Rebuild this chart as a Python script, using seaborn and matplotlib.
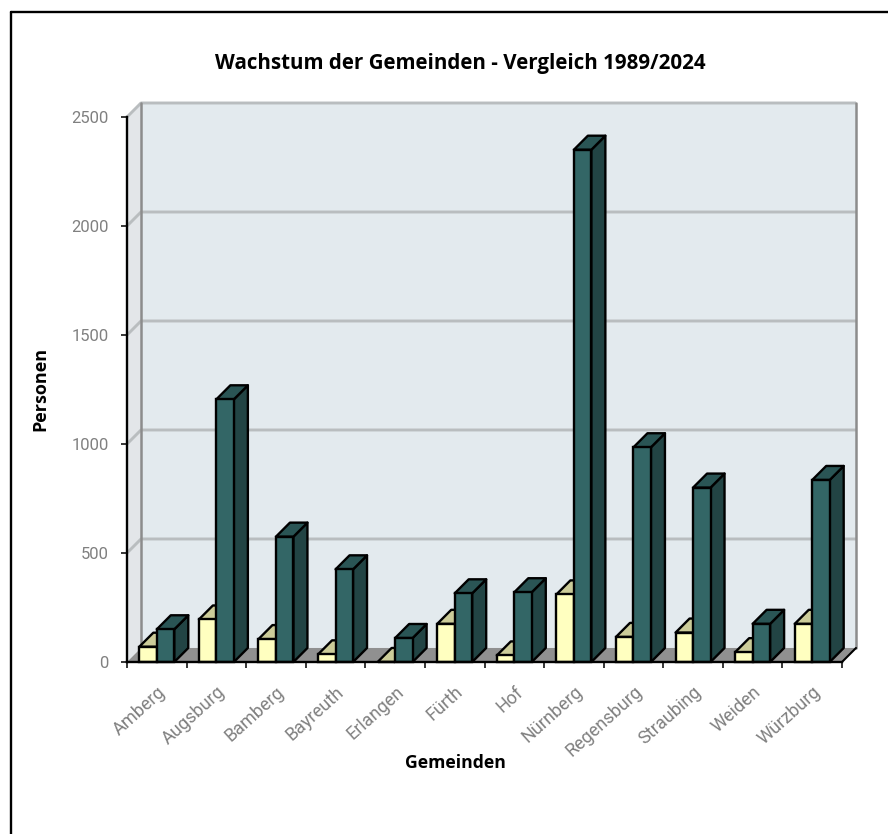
import matplotlib
matplotlib.use("Agg")
import matplotlib.pyplot as plt
from matplotlib.lines import Line2D
from matplotlib.patches import Polygon
import pandas as pd
import seaborn as sns

gemeinden = ["Amberg", "Augsburg", "Bamberg", "Bayreuth", "Erlangen", "Fürth", "Hof",
             "Nürnberg", "Regensburg", "Straubing", "Weiden", "Würzburg"]
wachstum_1989 = [70, 195, 105, 35, 0, 175, 30, 310, 115, 135, 45, 175]
wachstum_2024 = [150, 1205, 575, 425, 110, 315, 320, 2350, 985, 800, 175, 835]
y_ticks = [0, 500, 1000, 1500, 2000, 2500]

sns.set_theme(style="white")
W, H = 888, 834
fig = plt.figure(figsize=(W / 100, H / 100), dpi=100, facecolor="white")
ax = fig.add_axes([127 / W, 1 - 662 / H, 729 / W, 559 / H])

df = pd.DataFrame({
    "Gemeinde": gemeinden * 2,
    "Personen": wachstum_1989 + wachstum_2024,
    "Jahr": ["1989"] * 12 + ["2024"] * 12,
})
sns.barplot(data=df, x="Gemeinde", y="Personen", hue="Jahr", ax=ax, width=0.587, gap=0,
            saturation=1, palette=["#FFFFC0", "#336666"], edgecolor="black", linewidth=1.7,
            legend=False, errorbar=None)

# depth of the fake 3d box, in data units (14 px each way)
dx = 14 / (715 / 12)
dy = 14 / (544 / 2500)
x0, x1 = -0.5, 11.5
ax.set_xlim(x0, x1 + dx)
ax.set_ylim(0, 2500 + dy)

# walls and floor
ax.add_patch(Polygon([(x0 + dx, dy), (x1 + dx, dy), (x1 + dx, 2500 + dy), (x0 + dx, 2500 + dy)],
                     fc="#E3EAEE", ec="none", zorder=0))
ax.add_patch(Polygon([(x0, 0), (x0 + dx, dy), (x0 + dx, 2500 + dy), (x0, 2500)],
                     fc="#E3E6E9", ec="none", zorder=0))
ax.add_patch(Polygon([(x0, 0), (x1, 0), (x1 + dx, dy), (x0 + dx, dy)],
                     fc="#909090", ec="none", zorder=0.5))
for t in y_ticks[1:]:
    ax.plot([x0, x0 + dx, x1 + dx], [t, t + dy, t + dy], color="#B9BDBF", lw=2.1, zorder=1,
            solid_capstyle="butt", clip_on=False)
ax.plot([x0 + dx, x0 + dx], [dy, 2500 + dy], color="#8C8C8C", lw=1.8, zorder=1.5, clip_on=False)
ax.plot([x1 + dx, x1 + dx], [dy, 2500 + dy], color="#8C8C8C", lw=1.8, zorder=1.5, clip_on=False)
ax.plot([x1, x1 + dx], [0, dy], color="black", lw=1.5, zorder=1.5, clip_on=False)

# side and top faces for each bar
shades = [("#CCCC99", "#999973"), ("#2A5555", "#224444")]
for k, (bars, (top_col, side_col)) in enumerate(zip(ax.containers, shades)):
    base = 3 + 3 * k
    for b in bars:
        bx, bw, bh = b.get_x(), b.get_width(), b.get_height()
        ax.add_patch(Polygon([(bx + bw, 0), (bx + bw + dx, dy), (bx + bw + dx, bh + dy), (bx + bw, bh)],
                             fc=side_col, ec="black", lw=1.7, zorder=base, joinstyle="round"))
        ax.add_patch(Polygon([(bx, bh), (bx + dx, bh + dy), (bx + bw + dx, bh + dy), (bx + bw, bh)],
                             fc=top_col, ec="black", lw=1.7, zorder=base, joinstyle="round"))
        b.set_zorder(base + 1)
        b.set_clip_on(False)

# axes lines and ticks
for s in ["top", "right"]:
    ax.spines[s].set_visible(False)
for s in ["left", "bottom"]:
    ax.spines[s].set_color("black")
    ax.spines[s].set_linewidth(1.7)
    ax.spines[s].set_zorder(10)
ax.spines["left"].set_bounds(0, 2500)
ax.spines["bottom"].set_bounds(x0, x1)

ax.set_yticks(y_ticks)
ax.tick_params(axis="y", left=True, length=4.3, width=1.1, color="black", pad=9,
               labelsize=12, labelcolor="#808080")
ax.set_xticks(range(12))
ax.set_xticklabels(gemeinden, rotation=42, ha="right", rotation_mode="anchor")
ax.set_xticks([x0 + i for i in range(13)], minor=True)
ax.tick_params(axis="x", which="major", bottom=False, pad=9, labelsize=13, labelcolor="#808080")
ax.tick_params(axis="x", which="minor", bottom=True, length=4.3, width=1.1, color="black")
for lab in ax.get_xticklabels() + ax.get_yticklabels():
    lab.set_fontfamily("Roboto")

ax.set_xlabel("")
ax.set_ylabel("")
fig.text(460.5 / W, 1 - 64 / H, "Wachstum der Gemeinden - Vergleich 1989/2024", ha="center", va="center",
         fontsize=14.8, fontweight="bold", family="Open Sans", color="black")
fig.text(455 / W, 1 - 762.5 / H, "Gemeinden", ha="center", va="center",
         fontsize=12.7, fontweight="bold", family="Open Sans", color="black")
fig.text(40 / W, 1 - 389 / H, "Personen", ha="center", va="center", rotation=90,
         fontsize=13, fontweight="bold", family="Open Sans", color="black")

# outer frame, only top and left reach the picture
fig.add_artist(Line2D([10.5 / W, 10.5 / W], [0, 1 - 11.5 / H], color="black", lw=1.7))
fig.add_artist(Line2D([10.5 / W, 1], [1 - 11.5 / H, 1 - 11.5 / H], color="black", lw=1.7))

fig.savefig("out.png", dpi=100)
